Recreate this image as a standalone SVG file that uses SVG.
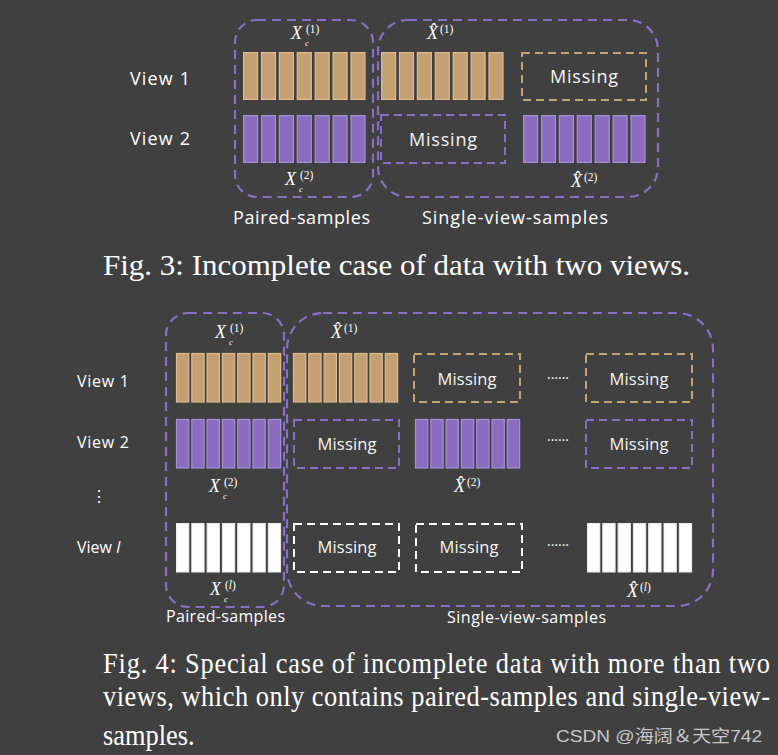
<svg xmlns="http://www.w3.org/2000/svg" xmlns:xlink="http://www.w3.org/1999/xlink" width="778" height="755" viewBox="0 0 778 755">
<style>
.lbl{font-family:"Open Sans","Noto Sans",sans-serif;fill:#ffffff}
.miss{font-family:"Open Sans","Noto Sans",sans-serif;fill:#f4f4f4;text-anchor:middle}
.cap{font-family:"Liberation Serif","Times New Roman",serif;fill:#ffffff;font-size:30px}
.mx{font-family:"Liberation Serif","Times New Roman",serif;fill:#ffffff;font-style:italic;font-size:18px}
.sup{font-family:"Liberation Serif","Times New Roman",serif;fill:#ffffff;font-size:11.5px;font-style:normal}
.sub{font-family:"Liberation Serif","Times New Roman",serif;fill:#ffffff;font-size:9px;font-style:italic}
.tan{fill:#c49f72;stroke:#dcbb8f;stroke-width:1.2}
.pur{fill:#8c6cc0;stroke:#a98fd6;stroke-width:1.2}
.wht{fill:#ffffff;stroke:#ececec;stroke-width:1}
.grp{fill:none;stroke:#8a6fc8;stroke-width:2.2;stroke-dasharray:9 6}
.mtan{fill:none;stroke:#c9a36f;stroke-width:2;stroke-dasharray:8 5}
.mpur{fill:none;stroke:#8a6fc8;stroke-width:2;stroke-dasharray:8 5}
.mwht{fill:none;stroke:#ffffff;stroke-width:2;stroke-dasharray:8 5}
.dots{font-family:"Open Sans","Noto Sans",sans-serif;fill:#ffffff;font-size:14px;text-anchor:middle}
</style>
<defs>
<g id="t7">
<rect x="0.6" y="0.6" width="14" height="46.8"/><rect x="18.5" y="0.6" width="14" height="46.8"/><rect x="36.4" y="0.6" width="14" height="46.8"/><rect x="54.3" y="0.6" width="14" height="46.8"/><rect x="72.2" y="0.6" width="14" height="46.8"/><rect x="90.1" y="0.6" width="14" height="46.8"/><rect x="108" y="0.6" width="14" height="46.8"/>
</g>
<g id="b7">
<rect x="0.5" y="0.5" width="12.3" height="48.5"/><rect x="15.8" y="0.5" width="12.3" height="48.5"/><rect x="31.1" y="0.5" width="12.3" height="48.5"/><rect x="46.4" y="0.5" width="12.3" height="48.5"/><rect x="61.7" y="0.5" width="12.3" height="48.5"/><rect x="77" y="0.5" width="12.3" height="48.5"/><rect x="92.3" y="0.5" width="12.3" height="48.5"/>
</g>
</defs>
<rect x="0" y="0" width="778" height="755" fill="#404040"/>

<!-- Figure 3 -->
<g id="fig3-groups">
<rect class="grp" x="235" y="20" width="138" height="177" rx="22"/>
<rect class="grp" x="378" y="20" width="280" height="177" rx="30"/>
</g>
<g id="fig3-view-labels">
<text class="lbl" x="130" y="85" font-size="18" textLength="60">View 1</text>
<text class="lbl" x="130" y="145" font-size="18" textLength="60">View 2</text>
</g>
<g id="fig3-paired-v1"><use xlink:href="#t7" href="#t7" x="243" y="52" class="tan"/></g>
<g id="fig3-paired-v2"><use xlink:href="#t7" href="#t7" x="243" y="115" class="pur"/></g>
<g id="fig3-single-v1"><use xlink:href="#t7" href="#t7" x="381" y="52" class="tan"/></g>
<g id="fig3-missing-v1"><rect class="mtan" x="522" y="53" width="124" height="47"/><text class="miss" x="584" y="83" font-size="18" textLength="68">Missing</text></g>
<g id="fig3-missing-v2"><rect class="mpur" x="381" y="115" width="124" height="48"/><text class="miss" x="443" y="146" font-size="18" textLength="68">Missing</text></g>
<g id="fig3-single-v2"><use xlink:href="#t7" href="#t7" x="523" y="115" class="pur"/></g>
<g id="fig3-math">
<text class="mx" x="291" y="39">X</text><text class="sup" x="306" y="33">(1)</text><text class="sub" x="305" y="46">c</text>
<text class="mx" x="285" y="185">X</text><text class="sup" x="300" y="179">(2)</text><text class="sub" x="299" y="192">c</text>
<text class="mx" x="427" y="39">X̂</text><text class="sup" x="440" y="33">(1)</text>
<text class="mx" x="571" y="187">X̂</text><text class="sup" x="584" y="181">(2)</text>
</g>
<g id="fig3-group-labels">
<text class="lbl" x="233" y="224" font-size="18" textLength="137">Paired-samples</text>
<text class="lbl" x="422" y="224" font-size="18" textLength="186">Single-view-samples</text>
</g>
<g transform="translate(103,0) scale(0.88,1)">
<text class="cap" x="0" y="275" textLength="667" lengthAdjust="spacingAndGlyphs">Fig. 3: Incomplete case of data with two views.</text>
</g>

<!-- Figure 4 -->
<g id="fig4-groups">
<rect class="grp" x="166" y="313" width="118" height="294" rx="22"/>
<rect class="grp" x="287" y="313" width="426" height="293" rx="36"/>
</g>
<g id="fig4-view-labels">
<text class="lbl" x="77" y="387" font-size="16" textLength="52">View 1</text>
<text class="lbl" x="77" y="448" font-size="16" textLength="52">View 2</text>
<text class="lbl" x="99" y="502" font-size="16" text-anchor="middle">⋮</text>
<text class="lbl" x="77" y="553" font-size="16">View <tspan font-style="italic">l</tspan></text>
</g>
<g id="fig4-paired-v1"><use xlink:href="#b7" href="#b7" x="176" y="353" class="tan"/></g>
<g id="fig4-paired-v2"><use xlink:href="#b7" href="#b7" x="176" y="419" class="pur"/></g>
<g id="fig4-paired-vl"><use xlink:href="#b7" href="#b7" x="176" y="523" class="wht"/></g>
<g id="fig4-single-v1"><use xlink:href="#b7" href="#b7" x="293" y="353" class="tan"/></g>
<g id="fig4-missing-v1a"><rect class="mtan" x="414" y="354" width="106" height="48"/><text class="miss" x="467" y="385" font-size="16.5" textLength="59">Missing</text></g>
<g id="fig4-missing-v1b"><rect class="mtan" x="586" y="354" width="106" height="48"/><text class="miss" x="639" y="385" font-size="16.5" textLength="59">Missing</text></g>
<g id="fig4-missing-v2a"><rect class="mpur" x="294" y="420" width="105" height="48"/><text class="miss" x="347" y="450" font-size="16.5" textLength="59">Missing</text></g>
<g id="fig4-single-v2"><use xlink:href="#b7" href="#b7" x="415" y="419" class="pur"/></g>
<g id="fig4-missing-v2b"><rect class="mpur" x="586" y="420" width="106" height="48"/><text class="miss" x="639" y="450" font-size="16.5" textLength="59">Missing</text></g>
<g id="fig4-missing-vla"><rect class="mwht" x="294" y="524" width="105" height="48"/><text class="miss" x="347" y="553" font-size="16.5" textLength="59">Missing</text></g>
<g id="fig4-missing-vlb"><rect class="mwht" x="416" y="524" width="106" height="48"/><text class="miss" x="469" y="553" font-size="16.5" textLength="59">Missing</text></g>
<g id="fig4-single-vl"><use xlink:href="#b7" href="#b7" x="587" y="523" class="wht"/></g>
<g id="fig4-dots">
<text class="dots" x="558" y="379">......</text>
<text class="dots" x="558" y="441">......</text>
<text class="dots" x="558" y="546">......</text>
</g>
<g id="fig4-math">
<text class="mx" x="215" y="338">X</text><text class="sup" x="230" y="332">(1)</text><text class="sub" x="229" y="345">c</text>
<text class="mx" x="331" y="338">X̂</text><text class="sup" x="344" y="332">(1)</text>
<text class="mx" x="209" y="492">X</text><text class="sup" x="224" y="486">(2)</text><text class="sub" x="223" y="499">c</text>
<text class="mx" x="454" y="492">X̂</text><text class="sup" x="467" y="486">(2)</text>
<text class="mx" x="210" y="595">X</text><text class="sup" x="225" y="589">(<tspan font-style="italic">l</tspan>)</text><text class="sub" x="224" y="602">c</text>
<text class="mx" x="627" y="597">X̂</text><text class="sup" x="640" y="591">(<tspan font-style="italic">l</tspan>)</text>
</g>
<g id="fig4-group-labels">
<text class="lbl" x="166" y="622" font-size="16" textLength="119">Paired-samples</text>
<text class="lbl" x="447" y="623" font-size="16" textLength="159">Single-view-samples</text>
</g>
<g transform="translate(103,0) scale(0.88,1)">
<text class="cap" x="0" y="673" textLength="758" lengthAdjust="spacing">Fig. 4: Special case of incomplete data with more than two</text>
<text class="cap" x="0" y="706" textLength="758" lengthAdjust="spacing">views, which only contains paired-samples and single-view-</text>
<text class="cap" x="0" y="745">samples.</text>
</g>
<text x="556" y="742" font-family="Liberation Sans,'Noto Sans CJK SC',sans-serif" font-size="17" fill="#c8c8c8" textLength="206" lengthAdjust="spacingAndGlyphs">CSDN @海阔＆天空742</text>
</svg>
